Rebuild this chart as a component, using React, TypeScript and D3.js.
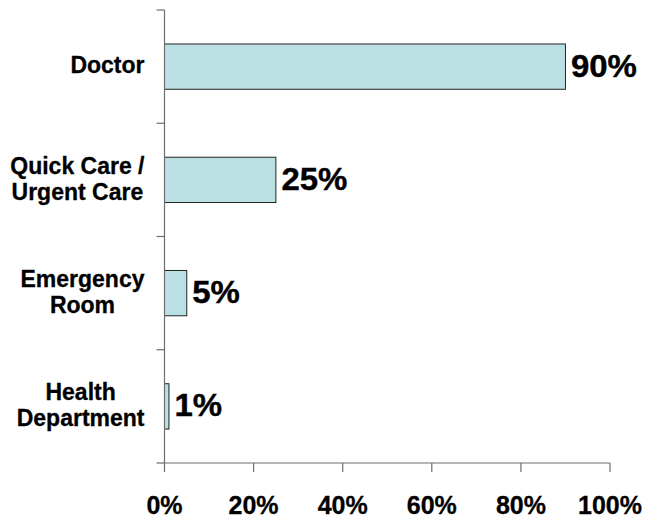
import React, { useEffect, useRef } from "react";
import * as d3 from "d3";

const categories: string[][] = [
  ["Doctor"],
  ["Quick Care /", "Urgent Care"],
  ["Emergency", "Room"],
  ["Health", "Department"],
];
const values: number[] = [90, 25, 5, 1];
const xTicks: number[] = [0, 20, 40, 60, 80, 100];

const W = 646;
const H = 521;
const FONT = "Arial, 'Liberation Sans', sans-serif";

export default function App() {
  const ref = useRef<SVGSVGElement | null>(null);

  useEffect(() => {
    const svg = d3.select(ref.current);
    svg.selectAll("*").remove();

    const x = d3.scaleLinear().domain([0, 100]).range([164.5, 610]);
    const keys = categories.map((_, i) => String(i));
    const y = d3.scaleBand<string>().domain(keys).range([10, 463]).paddingInner(0.6).paddingOuter(0.3);
    const step = y.step();
    const axisColor = "#6e6e6e";

    // bars
    svg
      .append("g")
      .selectAll("rect")
      .data(values)
      .join("rect")
      .attr("x", x(0))
      .attr("y", (_, i) => y(String(i))!)
      .attr("width", (d) => x(d) - x(0))
      .attr("height", y.bandwidth())
      .attr("fill", "#bbe0e3")
      .attr("stroke", "#222")
      .attr("stroke-width", 1);

    // y axis line
    svg
      .append("line")
      .attr("x1", x(0))
      .attr("x2", x(0))
      .attr("y1", 10)
      .attr("y2", 463)
      .attr("stroke", axisColor)
      .attr("stroke-width", 1.2);

    // y ticks at band boundaries
    const bounds = d3.range(categories.length + 1).map((i) => 10 + i * step);
    svg
      .append("g")
      .selectAll("line")
      .data(bounds)
      .join("line")
      .attr("x1", x(0) - 8)
      .attr("x2", x(0))
      .attr("y1", (d) => d)
      .attr("y2", (d) => d)
      .attr("stroke", axisColor)
      .attr("stroke-width", 1.2);

    // x axis line
    svg
      .append("line")
      .attr("x1", x(0))
      .attr("x2", x(100))
      .attr("y1", 463)
      .attr("y2", 463)
      .attr("stroke", axisColor)
      .attr("stroke-width", 1.2);

    svg
      .append("g")
      .selectAll("line")
      .data(xTicks)
      .join("line")
      .attr("x1", (d) => x(d))
      .attr("x2", (d) => x(d))
      .attr("y1", 463)
      .attr("y2", 472)
      .attr("stroke", axisColor)
      .attr("stroke-width", 1.2);

    svg
      .append("g")
      .selectAll("text")
      .data(xTicks)
      .join("text")
      .attr("x", (d) => x(d))
      .attr("y", 514)
      .attr("text-anchor", "middle")
      .attr("font-family", FONT)
      .attr("font-weight", "bold")
      .attr("font-size", 25)
      .attr("fill", "#000")
      .attr("stroke", "#000")
      .attr("stroke-width", 0.3)
      .text((d) => `${d}%`);

    // value labels
    svg
      .append("g")
      .selectAll("text")
      .data(values)
      .join("text")
      .attr(
        "transform",
        (d, i) => `translate(${x(d) + 5.5},${y(String(i))! + y.bandwidth() / 2}) scale(1.08,1)`
      )
      .attr("dy", "0.33em")
      .attr("font-family", FONT)
      .attr("font-weight", "bold")
      .attr("font-size", 30.5)
      .attr("fill", "#000")
      .attr("stroke", "#000")
      .attr("stroke-width", 0.4)
      .text((d) => `${d}%`);

    // category labels, centered lines, block right-aligned
    const fs = 23;
    const lineH = 26;
    const rightEdge = 144.5;
    categories.forEach((lines, i) => {
      const cy = y(String(i))! + y.bandwidth() / 2;
      const g = svg.append("g");
      const texts = lines.map((ln, j) =>
        g
          .append("text")
          .attr("y", cy + (j - (lines.length - 1) / 2) * lineH)
          .attr("dy", "0.29em")
          .attr("text-anchor", "middle")
          .attr("font-family", FONT)
          .attr("font-weight", "bold")
          .attr("font-size", fs)
          .attr("fill", "#000")
          .attr("stroke", "#000")
          .attr("stroke-width", 0.3)
          .text(ln)
      );
      const maxW = d3.max(texts, (t) => (t.node() as SVGTextElement).getComputedTextLength()) || 0;
      texts.forEach((t) => t.attr("x", rightEdge - maxW / 2));
    });
  }, []);

  return (
    <svg
      ref={ref}
      width={W}
      height={H}
      style={{ position: "absolute", left: 0, top: 0, background: "#fff" }}
    />
  );
}
